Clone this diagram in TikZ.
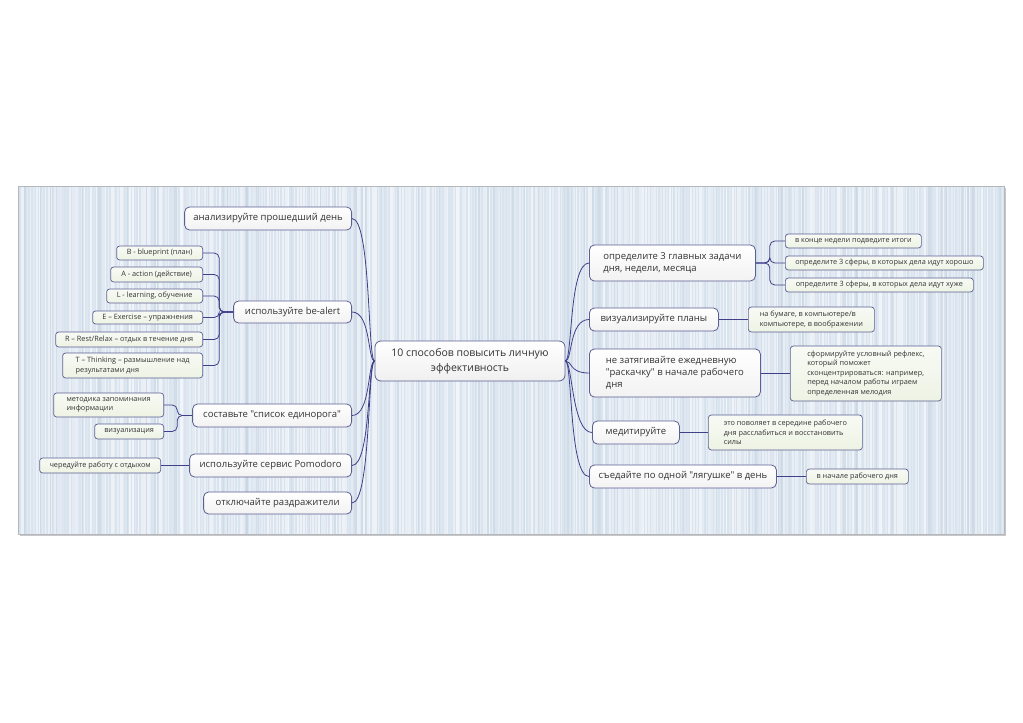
\documentclass[tikz,border=0pt]{standalone}
\usepackage{fontspec}
\setmainfont{Open Sans}[Ligatures=TeXOff]
\usepackage{xcolor}
\usepackage{tikz}
\usetikzlibrary{positioning,calc}
\definecolor{framegray}{HTML}{B4B8BE}
\definecolor{paperblue}{HTML}{DAE4EF}
\definecolor{stripeblue}{HTML}{C8D5E3}
\definecolor{boxline}{HTML}{5C5F93}
\definecolor{branchblue}{HTML}{3F4089}
\definecolor{inkgray}{HTML}{333333}
\definecolor{notegreen}{HTML}{EDF3E4}
\tikzset{
  rootbox/.style={draw=boxline,line width=0.8pt,top color=white,bottom color=black!6,
    rounded corners=6pt,align=center,inner sep=0pt,text=inkgray,
    font=\fontsize{10.5}{15}\selectfont},
  topicbox/.style={draw=boxline,line width=0.8pt,top color=white,bottom color=black!5,
    rounded corners=5pt,align=left,inner sep=0pt,text=inkgray,
    font=\fontsize{9.5}{12}\selectfont},
  notebox/.style={draw=boxline,line width=0.7pt,top color=notegreen!40,bottom color=notegreen,
    rounded corners=3pt,align=left,inner sep=0pt,text=inkgray,
    font=\fontsize{7.3}{9.5}\selectfont},
  branchline/.style={draw=branchblue,line width=0.8pt},
  bracketline/.style={branchline,rounded corners=5pt}
}

\begin{document}
\begin{tikzpicture}[x=1pt,y=-1pt]
  \useasboundingbox (0,0) rectangle (1023,723);
  \fill[white] (0,0) rectangle (1023,723);
  \fill[black!22] (20,188) rectangle (1006,536);
  \fill[paperblue] (18,186) rectangle (1004,534);
  \begin{scope}
    \clip (18,186) rectangle (1004,534);
    \pgfmathsetseed{17}
    \foreach \s in {0,...,328} {
      \pgfmathsetmacro\op{0.1+0.55*rnd}
      \pgfmathsetmacro\wd{0.8+2*rnd}
      \fill[white,opacity=\op] ({18+3*\s},186) rectangle ++(\wd,348);
    }
    \foreach \s in {0,...,90} {
      \pgfmathsetmacro\dx{18+986*rnd}
      \pgfmathsetmacro\wd{0.8+1.5*rnd}
      \fill[stripeblue,opacity=0.6] (\dx,186) rectangle ++(\wd,348);
    }
  \end{scope}
  \draw[framegray,line width=0.8pt] (18,186) rectangle (1004,534);

  \node[rootbox,minimum width=190pt,minimum height=40pt] (root) at (470,361) {10 способов повысить личную\\эффективность};

  \node[topicbox,anchor=east,minimum width=167pt,minimum height=23pt] (analyze) at (352,218.5) {анализируйте прошедший день};
  \node[topicbox,anchor=east,minimum width=118pt,minimum height=22pt] (bealert) at (352,312) {используйте be-alert};
  \node[topicbox,anchor=east,minimum width=159pt,minimum height=23pt] (unicorn) at (352,415.5) {составьте "список единорога"};
  \node[topicbox,anchor=east,minimum width=162pt,minimum height=23pt] (pomodoro) at (352,465.5) {используйте сервис Pomodoro};
  \node[topicbox,anchor=east,minimum width=148pt,minimum height=22pt] (irritants) at (352,503) {отключайте раздражители};

  \node[notebox,anchor=east,minimum width=86pt,minimum height=14pt] (blueprint) at (203,253) {B - blueprint (план)};
  \node[notebox,anchor=east,minimum width=92pt,minimum height=15pt] (action) at (203,274.5) {A - action (действие)};
  \node[notebox,anchor=east,minimum width=96pt,minimum height=14pt] (learning) at (203,296) {L - learning, обучение};
  \node[notebox,anchor=east,minimum width=110pt,minimum height=13pt] (exercise) at (203,317.5) {E – Exercise – упражнения};
  \node[notebox,anchor=east,minimum width=147pt,minimum height=15pt] (rest) at (203,339.5) {R – Rest/Relax – отдых в течение дня};
  \node[notebox,anchor=east,minimum width=140pt,minimum height=25pt] (thinking) at (203,365.5) {T – Thinking – размышление над\\результатами дня};
  \node[notebox,anchor=east,minimum width=110pt,minimum height=24pt] (memo) at (164,405) {методика запоминания\\информации};
  \node[notebox,anchor=east,minimum width=69pt,minimum height=15pt] (visual) at (164,431.5) {визуализация};
  \node[notebox,anchor=east,minimum width=121pt,minimum height=15pt] (alternate) at (161,465.5) {чередуйте работу с отдыхом};

  \node[topicbox,anchor=west,minimum width=166pt,minimum height=36pt] (tasks) at (589,263) {определите 3 главных задачи\\дня, недели, месяца};
  \node[topicbox,anchor=west,minimum width=129pt,minimum height=23pt] (plans) at (589,319.5) {визуализируйте планы};
  \node[topicbox,anchor=west,minimum width=171pt,minimum height=48pt] (warmup) at (589,373) {не затягивайте ежедневную\\"раскачку" в начале рабочего\\дня};
  \node[topicbox,anchor=west,minimum width=87pt,minimum height=23pt] (meditate) at (592,432.5) {медитируйте};
  \node[topicbox,anchor=west,minimum width=187pt,minimum height=23pt] (frog) at (589,476.5) {съедайте по одной "лягушке" в день};

  \node[notebox,anchor=west,minimum width=136pt,minimum height=14pt] (weekend) at (785,241) {в конце недели подведите итоги};
  \node[notebox,anchor=west,minimum width=198pt,minimum height=14pt] (goodareas) at (785,263) {определите 3 сферы, в которых дела идут хорошо};
  \node[notebox,anchor=west,minimum width=188pt,minimum height=14pt] (badareas) at (785,285) {определите 3 сферы, в которых дела идут хуже};
  \node[notebox,anchor=west,minimum width=126pt,minimum height=25pt] (paper) at (748,319.5) {на бумаге, в компьютере/в\\компьютере, в воображении};
  \node[notebox,anchor=west,minimum width=151pt,minimum height=55pt] (reflex) at (790,373.5) {сформируйте условный рефлекс,\\который поможет\\сконцентрироваться: например,\\перед началом работы играем\\определенная мелодия};
  \node[notebox,anchor=west,minimum width=154pt,minimum height=35pt] (relax) at (708,432.5) {это поволяет в середине рабочего\\дня расслабиться и восстановить\\силы};
  \node[notebox,anchor=west,minimum width=102pt,minimum height=15pt] (morning) at (806,476.5) {в начале рабочего дня};

  \foreach \n in {analyze,bealert,unicorn,pomodoro,irritants}
    \draw[branchline] (root.west) .. controls ($(root.west)+(-7,0)$) and ($(\n.east)+(19,0)$) .. (\n.east);
  \foreach \n in {tasks,plans,warmup,meditate,frog}
    \draw[branchline] (root.east) .. controls ($(root.east)+(7,0)$) and ($(\n.west)+(-20,0)$) .. (\n.west);

  \foreach \n in {blueprint,action,learning,exercise,rest,thinking}
    \draw[bracketline] (bealert.west) -- ++(-14,0) |- (\n.east);
  \foreach \n in {memo,visual}
    \draw[bracketline] (unicorn.west) -- ++(-15,0) |- (\n.east);
  \draw[branchline] (pomodoro.west) -- (alternate.east);

  \foreach \n in {weekend,goodareas,badareas}
    \draw[bracketline] (tasks.east) -- ++(14,0) |- (\n.west);
  \draw[branchline] (plans.east) -- (paper.west);
  \draw[branchline] (warmup.east) -- (reflex.west |- warmup.east);
  \draw[branchline] (meditate.east) -- (relax.west);
  \draw[branchline] (frog.east) -- (morning.west);
\end{tikzpicture}
\end{document}
